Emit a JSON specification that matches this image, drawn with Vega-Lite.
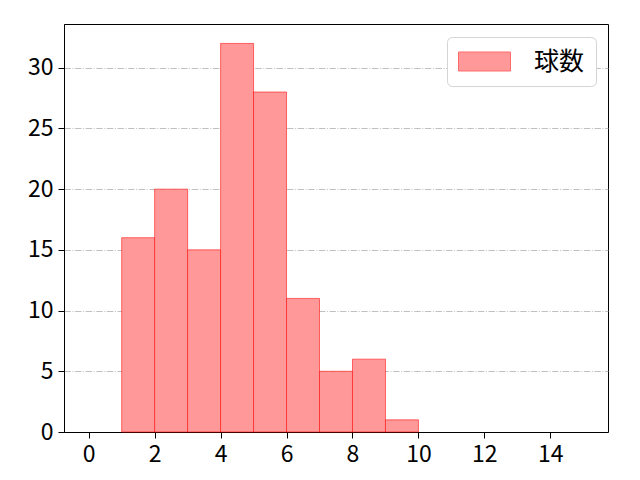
{
  "$schema": "https://vega.github.io/schema/vega-lite/v6.json",
  "width": 544,
  "height": 408,
  "autosize": {"type": "none"},
  "padding": {"left": 64, "top": 24, "right": 32, "bottom": 48},
  "background": "white",
  "data": {
    "values": [
      {"start": 1, "end": 2, "count": 16, "series": "球数"},
      {"start": 2, "end": 3, "count": 20, "series": "球数"},
      {"start": 3, "end": 4, "count": 15, "series": "球数"},
      {"start": 4, "end": 5, "count": 32, "series": "球数"},
      {"start": 5, "end": 6, "count": 28, "series": "球数"},
      {"start": 6, "end": 7, "count": 11, "series": "球数"},
      {"start": 7, "end": 8, "count": 5, "series": "球数"},
      {"start": 8, "end": 9, "count": 6, "series": "球数"},
      {"start": 9, "end": 10, "count": 1, "series": "球数"}
    ]
  },
  "mark": {"type": "rect", "fillOpacity": 1, "stroke": "#ff0000", "strokeOpacity": 0.55, "strokeWidth": 1},
  "encoding": {
    "x": {
      "field": "start", "type": "quantitative",
      "scale": {"domain": [-0.75, 15.75], "nice": false, "zero": false},
      "axis": {"values": [0, 2, 4, 6, 8, 10, 12, 14], "title": null, "grid": false}
    },
    "x2": {"field": "end"},
    "y": {
      "field": "count", "type": "quantitative",
      "scale": {"domain": [0, 33.6], "nice": false},
      "axis": {"values": [0, 5, 10, 15, 20, 25, 30], "title": null, "grid": true}
    },
    "y2": {"datum": 0},
    "color": {
      "field": "series", "type": "nominal",
      "scale": {"range": ["#ff9999"]},
      "legend": {
        "title": null,
        "orient": "none",
        "legendX": 383,
        "legendY": 13,
        "symbolType": "M-1,-0.73H3V0.73H-1Z",
        "symbolSize": 676,
        "symbolStrokeColor": "#ff6a6a",
        "symbolStrokeWidth": 1,
        "symbolOpacity": 1,
        "labelFontSize": 25,
        "labelOffset": 49,
        "padding": 11,
        "strokeColor": "#d4d4d4",
        "fillColor": "white",
        "cornerRadius": 5
      }
    }
  },
  "config": {
    "font": "Noto Sans CJK JP",
    "view": {"stroke": "black", "strokeWidth": 1},
    "axis": {
      "labelFont": "Noto Sans CJK JP",
      "labelFontSize": 23,
      "labelColor": "black",
      "domainColor": "black",
      "tickColor": "black",
      "tickSize": 6,
      "labelPadding": 5,
      "gridColor": "#b0b0b0",
      "gridDash": [6.4, 1.6, 1, 1.6],
      "gridWidth": 0.8
    },
    "legend": {"labelFont": "Noto Sans CJK JP", "labelColor": "black"}
  }
}
